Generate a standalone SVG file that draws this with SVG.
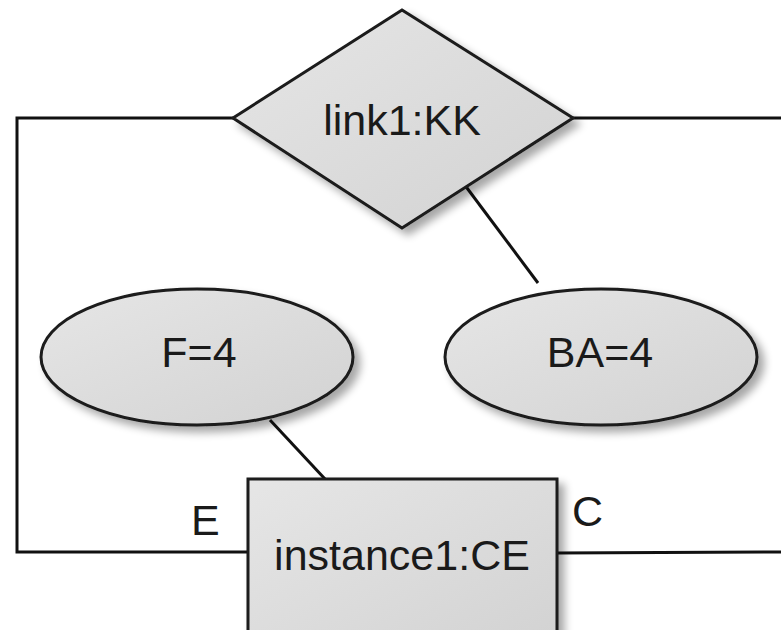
<svg xmlns="http://www.w3.org/2000/svg" width="781" height="630" viewBox="0 0 781 630">
<style>
.shape{fill:url(#g);stroke:#1a1a1a;stroke-width:3;filter:url(#sh)}
.lbl{font-family:"Liberation Sans",Arial,sans-serif;font-size:43px;fill:#1a1a1a}
.mid{text-anchor:middle}
.edge{fill:none;stroke:#111;stroke-width:3}
</style>
<defs>
<linearGradient id="g" x1="0" y1="0" x2="1" y2="1">
<stop offset="0" stop-color="#e6e6e6"/>
<stop offset="1" stop-color="#d2d2d2"/>
</linearGradient>
<filter id="sh" x="-10%" y="-10%" width="130%" height="130%">
<feGaussianBlur in="SourceAlpha" stdDeviation="4"/>
<feOffset dx="6" dy="6" result="b"/>
<feComponentTransfer><feFuncA type="linear" slope="0.35"/></feComponentTransfer>
<feMerge><feMergeNode/><feMergeNode in="SourceGraphic"/></feMerge>
</filter>
</defs>
<rect width="781" height="630" fill="#fff"/>
<g id="connectors">
<polyline class="edge" points="233,118 17,118 17,552 247,552"/>
<line class="edge" x1="573" y1="118" x2="781" y2="118"/>
<line class="edge" x1="557" y1="553" x2="781" y2="552"/>
<line class="edge" x1="270" y1="420" x2="325" y2="479"/>
<line class="edge" x1="464" y1="184" x2="538" y2="283"/>
</g>
<g id="link1">
<polygon class="shape" points="402,10 573,118 402,228 233,118"/>
<text class="lbl mid" x="402" y="135">link1:KK</text>
</g>
<g id="F">
<ellipse class="shape" cx="197" cy="357" rx="156" ry="68"/>
<text class="lbl mid" x="199" y="367">F=4</text>
</g>
<g id="BA">
<ellipse class="shape" cx="601" cy="357" rx="156" ry="68"/>
<text class="lbl mid" x="600" y="367">BA=4</text>
</g>
<g id="instance1">
<rect class="shape" x="248" y="479" width="309" height="170"/>
<text class="lbl mid" x="402" y="570">instance1:CE</text>
</g>
<g id="portlabels">
<text class="lbl" x="191" y="535">E</text>
<text class="lbl" x="572" y="526">C</text>
</g>
</svg>
